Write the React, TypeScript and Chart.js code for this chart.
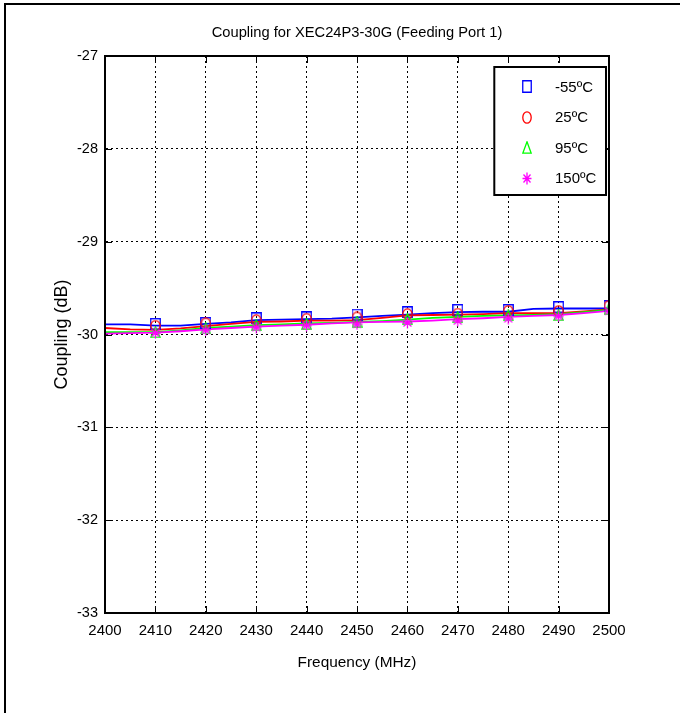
import React, { useEffect, useRef } from "react";
import { Chart, registerables } from "chart.js";

Chart.register(...registerables);

const titleText = "Coupling for XEC24P3-30G (Feeding Port 1)";
const xTitle = "Frequency (MHz)";
const yTitle = "Coupling (dB)";

const xTickValues = [2400, 2410, 2420, 2430, 2440, 2450, 2460, 2470, 2480, 2490, 2500];
const yTickValues = [-33, -32, -31, -30, -29, -28, -27];

const seriesNames = ["-55ºC", "25ºC", "95ºC", "150ºC"];
const seriesColors = ["#0000ff", "#ff0000", "#00ff00", "#ff00ff"];

// line traces (5 MHz)
const lineFreq = [2400, 2405, 2410, 2415, 2420, 2425, 2430, 2435, 2440, 2445, 2450, 2455, 2460, 2465, 2470, 2475, 2480, 2485, 2490, 2495, 2500];
const lineM55 = [-29.89, -29.89, -29.905, -29.905, -29.885, -29.87, -29.845, -29.84, -29.835, -29.83, -29.815, -29.8, -29.785, -29.77, -29.76, -29.755, -29.755, -29.725, -29.72, -29.72, -29.72];
const line25 = [-29.93, -29.945, -29.95, -29.935, -29.91, -29.885, -29.865, -29.86, -29.85, -29.85, -29.845, -29.82, -29.795, -29.79, -29.785, -29.78, -29.77, -29.77, -29.77, -29.75, -29.73];
const line95 = [-29.975, -29.975, -29.975, -29.955, -29.93, -29.915, -29.9, -29.89, -29.88, -29.875, -29.865, -29.855, -29.84, -29.82, -29.81, -29.8, -29.795, -29.79, -29.78, -29.76, -29.735];
const line150 = [-29.99, -29.985, -29.98, -29.965, -29.945, -29.93, -29.915, -29.905, -29.895, -29.88, -29.87, -29.865, -29.86, -29.85, -29.835, -29.825, -29.81, -29.8, -29.79, -29.77, -29.745];

// markers (10 MHz)
const markFreq = [2410, 2420, 2430, 2440, 2450, 2460, 2470, 2480, 2490, 2500];
const markM55 = [-29.885, -29.875, -29.825, -29.815, -29.785, -29.76, -29.735, -29.735, -29.705, -29.695];
const mark25 = [-29.905, -29.88, -29.845, -29.83, -29.815, -29.78, -29.775, -29.745, -29.745, -29.69];
const mark95 = [-29.975, -29.935, -29.9, -29.885, -29.86, -29.835, -29.815, -29.795, -29.79, -29.725];
const mark150 = [-29.985, -29.955, -29.925, -29.905, -29.89, -29.875, -29.855, -29.83, -29.805, -29.75];

const FONT = '"Liberation Sans", Arial, sans-serif';

function makeMarker(kind: string, color: string, w: number, h: number) {
  const c = document.createElement("canvas");
  c.width = w;
  c.height = h;
  const g = c.getContext("2d")!;
  g.strokeStyle = color;
  g.lineWidth = 1.3;
  g.beginPath();
  if (kind === "rect") {
    g.rect(0.75, 0.75, w - 1.5, h - 1.5);
  } else if (kind === "circle") {
    g.ellipse(w / 2, h / 2, w / 2 - 0.8, h / 2 - 0.8, 0, 0, Math.PI * 2);
  } else if (kind === "tri") {
    g.moveTo(w / 2, 0.8);
    g.lineTo(w - 0.8, h - 0.8);
    g.lineTo(0.8, h - 0.8);
    g.closePath();
  } else {
    const cx = w / 2, cy = h / 2;
    g.moveTo(cx, 0.5); g.lineTo(cx, h - 0.5);
    g.moveTo(0.5, cy); g.lineTo(w - 0.5, cy);
    g.moveTo(1.5, 1.5 + h * 0.08); g.lineTo(w - 1.5, h - 1.5 - h * 0.08);
    g.moveTo(w - 1.5, 1.5 + h * 0.08); g.lineTo(1.5, h - 1.5 - h * 0.08);
  }
  g.stroke();
  return c;
}

const kinds = ["rect", "circle", "tri", "star"];

export default function App() {
  const ref = useRef<HTMLCanvasElement | null>(null);

  useEffect(() => {
    document.body.style.margin = "0";
    const canvas = ref.current!;
    const plotMarkers = kinds.map((k, i) => makeMarker(k, seriesColors[i], 11, 12));
    const legendMarkers = kinds.map((k, i) => makeMarker(k, seriesColors[i], 10, 13));

    const lines = [lineM55, line25, line95, line150];
    const marks = [markM55, mark25, mark95, mark150];

    const datasets: any[] = [];
    lines.forEach((arr, i) => {
      datasets.push({
        label: seriesNames[i],
        data: lineFreq.map((f, j) => ({ x: f, y: arr[j] })),
        borderColor: seriesColors[i],
        borderWidth: 1.8,
        pointRadius: 0,
        tension: 0,
        fill: false,
        order: 7 - i,
      });
    });
    marks.forEach((arr, i) => {
      datasets.push({
        label: seriesNames[i] + " markers",
        data: markFreq.map((f, j) => ({ x: f, y: arr[j] })),
        showLine: false,
        pointStyle: plotMarkers[i],
        pointRadius: 5,
        borderColor: seriesColors[i],
        order: 3 - i,
      });
    });

    const framePlugin = {
      id: "frame",
      afterDraw(chart: any) {
        const { ctx, chartArea: a, scales } = chart;
        ctx.save();
        // outer frame (top & left)
        ctx.strokeStyle = "#000";
        ctx.lineWidth = 2;
        ctx.beginPath();
        ctx.moveTo(5, 713);
        ctx.lineTo(5, 4);
        ctx.lineTo(680, 4);
        ctx.stroke();
        // inner ticks
        ctx.lineWidth = 1;
        ctx.beginPath();
        const tl = 7;
        xTickValues.forEach((v) => {
          const px = Math.round(scales.x.getPixelForValue(v)) + 0.5;
          ctx.moveTo(px, a.bottom);
          ctx.lineTo(px, a.bottom - tl);
          ctx.moveTo(px, a.top);
          ctx.lineTo(px, a.top + tl);
        });
        yTickValues.forEach((v) => {
          const py = Math.round(scales.y.getPixelForValue(v)) + 0.5;
          ctx.moveTo(a.left, py);
          ctx.lineTo(a.left + tl, py);
          ctx.moveTo(a.right, py);
          ctx.lineTo(a.right - tl, py);
        });
        ctx.stroke();
        // box
        ctx.lineWidth = 2;
        ctx.strokeRect(a.left, a.top, a.right - a.left, a.bottom - a.top);
        // legend
        const lx = 494.3, ly = 67, lw = 111.7, lh = 128;
        ctx.fillStyle = "#fff";
        ctx.fillRect(lx, ly, lw, lh);
        ctx.strokeRect(lx, ly, lw, lh);
        ctx.font = "15px " + FONT;
        ctx.fillStyle = "#000";
        ctx.textAlign = "left";
        ctx.textBaseline = "middle";
        seriesNames.forEach((n, i) => {
          const cy = 86.5 + i * 30.5;
          const m = legendMarkers[i];
          ctx.drawImage(m, Math.round(527 - m.width / 2), Math.round(cy - m.height / 2));
          ctx.fillText(n, 555, cy + 1);
        });
        ctx.restore();
      },
    };

    const chart = new Chart(canvas, {
      type: "line",
      data: { datasets },
      options: {
        animation: false,
        responsive: false,
        devicePixelRatio: 1,
        layout: { padding: { top: 0, right: 71, bottom: 0, left: 0 } },
        plugins: {
          legend: { display: false },
          tooltip: { enabled: false },
          title: {
            display: true,
            text: titleText,
            fullSize: false,
            color: "#000",
            font: { family: FONT, size: 14.7, weight: "normal" },
            padding: { top: 24.2, bottom: 14.16 },
          },
        },
        scales: {
          x: {
            type: "linear",
            min: 2400,
            max: 2500,
            afterBuildTicks: (s: any) => {
              s.ticks = xTickValues.map((v) => ({ value: v }));
            },
            afterFit: (s: any) => {
              s.height = 100;
            },
            ticks: {
              color: "#000",
              font: { family: FONT, size: 15 },
              padding: 9,
              maxRotation: 0,
              autoSkip: false,
              callback: (v: any) => String(v),
            },
            grid: {
              drawTicks: false,
              color: (c: any) => (c.index === 0 || c.index === xTickValues.length - 1 ? "rgba(0,0,0,0)" : "#000"),
              lineWidth: 1,
            },
            border: { display: true, color: "#000", width: 2, dash: [2, 3] },
            title: {
              display: true,
              text: xTitle,
              color: "#000",
              font: { family: FONT, size: 15.4 },
              padding: { top: 0, bottom: 40.8 },
            },
          },
          y: {
            type: "linear",
            min: -33,
            max: -27,
            afterBuildTicks: (s: any) => {
              s.ticks = yTickValues.map((v) => ({ value: v }));
            },
            afterFit: (s: any) => {
              s.width = 105;
            },
            ticks: {
              color: "#000",
              font: { family: FONT, size: 14.5 },
              padding: 7,
              autoSkip: false,
              callback: (v: any) => String(v),
            },
            grid: {
              drawTicks: false,
              color: (c: any) => (c.index === 0 || c.index === yTickValues.length - 1 ? "rgba(0,0,0,0)" : "#000"),
              lineWidth: 1,
            },
            border: { display: true, color: "#000", width: 2, dash: [2, 3] },
            title: {
              display: true,
              text: yTitle,
              color: "#000",
              font: { family: FONT, size: 18 },
              padding: { top: 51, bottom: 0 },
            },
          },
        },
      },
      plugins: [framePlugin],
    });

    return () => chart.destroy();
  }, []);

  return <canvas ref={ref} width={680} height={713} style={{ display: "block", width: 680, height: 713 }} />;
}
